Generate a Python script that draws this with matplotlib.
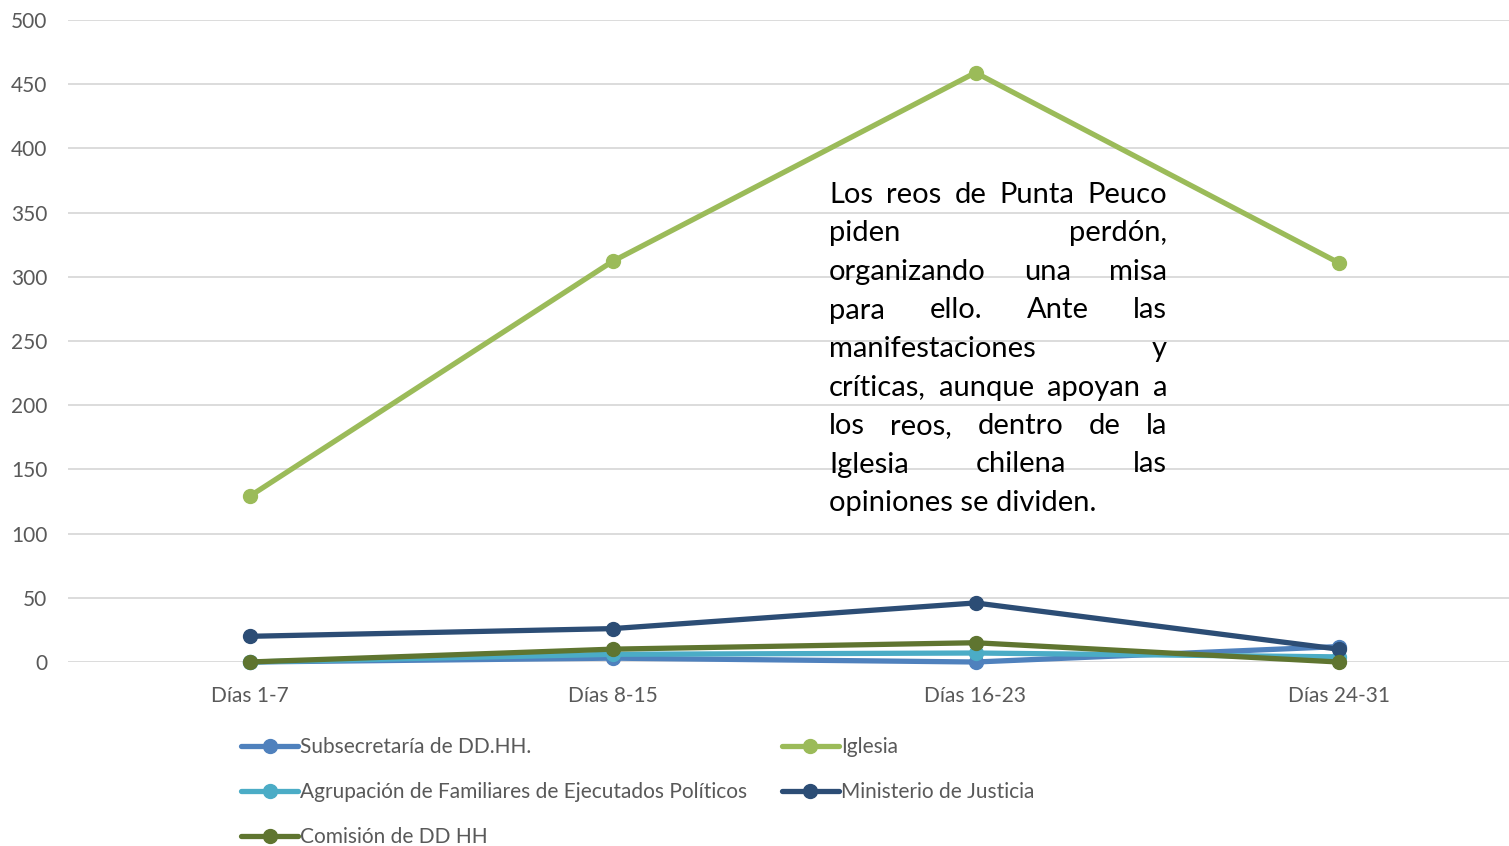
import matplotlib
matplotlib.use("Agg")
import matplotlib.pyplot as plt

plt.rcParams['font.family'] = ['Lato', 'DejaVu Sans']

categories = ["Días 1-7", "Días 8-15", "Días 16-23", "Días 24-31"]
series_names = [
    "Subsecretaría de DD.HH.",
    "Iglesia",
    "Agrupación de Familiares de Ejecutados Políticos",
    "Ministerio de Justicia",
    "Comisión de DD HH",
]
subsecretaria = [0, 3, 0, 12]
iglesia = [129, 312, 459, 311]
agrupacion = [0, 6, 7, 4]
ministerio = [20, 26, 46, 10]
comision = [0, 10, 15, 0]
colors = ["#4F81BD", "#9BBB59", "#4BACC6", "#2C4D75", "#5F7530"]

note_lines = [
    "Los reos de Punta Peuco",
    "piden perdón,",
    "organizando una misa",
    "para ello. Ante las",
    "manifestaciones y",
    "críticas, aunque apoyan a",
    "los reos, dentro de la",
    "Iglesia chilena las",
    "opiniones se dividen.",
]

W, H = 1509, 846
fig = plt.figure(figsize=(W / 100, H / 100), dpi=100)
ax = fig.add_axes([68 / W, 184 / H, 1452 / W, 642 / H])

x = range(len(categories))
lines = []
for name, vals, c in zip(series_names, [subsecretaria, iglesia, agrupacion, ministerio, comision], colors):
    ln, = ax.plot(x, vals, color=c, linewidth=3.8, marker="o", markersize=10, label=name,
                  solid_capstyle="round", clip_on=False, zorder=3)
    lines.append(ln)

ax.set_xlim(-0.5, 3.5)
ax.set_ylim(0, 500)
ax.set_yticks(range(0, 501, 50))
ax.set_xticks(list(x))
ax.set_xticklabels(categories)
ax.grid(axis="y", color="#d9d9d9", linewidth=1.3)
ax.set_axisbelow(True)
for s in ax.spines.values():
    s.set_visible(False)
ax.tick_params(axis="both", length=0, colors="#595959", labelsize=15)
ax.tick_params(axis="y", pad=15)
ax.tick_params(axis="x", pad=17)

# legend filled row by row (matplotlib fills columns first)
order = [0, 2, 4, 1, 3]
leg = fig.legend([lines[i] for i in order], [series_names[i] for i in order],
                 loc="upper left", bbox_to_anchor=(231 / W, 1 - 727 / H), ncol=2,
                 frameon=False, fontsize=15, handlelength=2.7, handletextpad=0.1,
                 columnspacing=1.7, labelspacing=1.2, borderpad=0)
for t in leg.get_texts():
    t.set_color("#595959")

# justified annotation text
fig.canvas.draw()
r = fig.canvas.get_renderer()
x0, x1 = 829, 1167
for i, line in enumerate(note_lines):
    yb = 1 - (203 + i * 38.5) / H
    words = line.split()
    if i == len(note_lines) - 1:
        fig.text(x0 / W, yb, line, fontsize=21, va="baseline", ha="left", color="black")
        continue
    ts = [fig.text(0, yb, w, fontsize=21, va="baseline", ha="left", color="black") for w in words]
    widths = [t.get_window_extent(r).width for t in ts]
    gap = (x1 - x0 - sum(widths)) / (len(words) - 1)
    pos = x0
    for t, w in zip(ts, widths):
        t.set_x(pos / W)
        pos += w + gap

fig.savefig("out.png", dpi=100)
